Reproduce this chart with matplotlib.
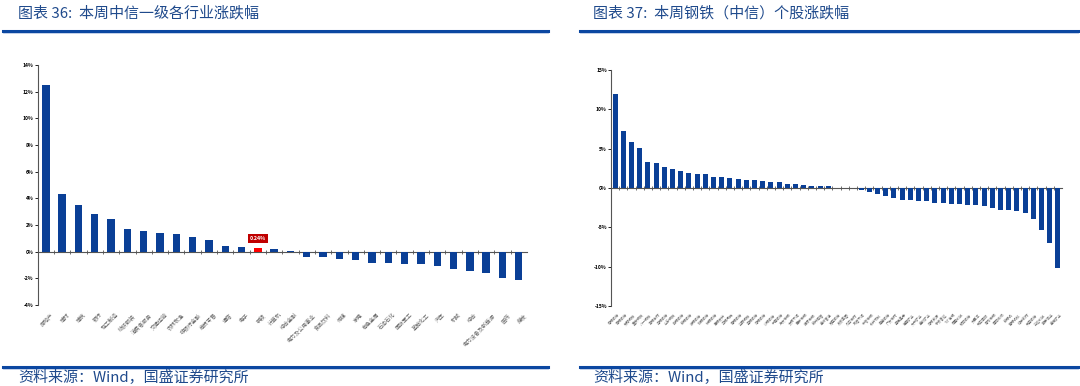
import numpy as np
import matplotlib
matplotlib.use("Agg")
import matplotlib.pyplot as plt
from matplotlib.lines import Line2D

plt.rcParams['font.family'] = ['Noto Sans CJK SC', 'DejaVu Sans']

# 左图：本周中信一级各行业涨跌幅 (%)
industries = ['房地产', '建材', '建筑', '银行', '轻工制造', '纺织服装', '消费者服务',
              '交通运输', '农林牧渔', '非银行金融', '商贸零售', '通信', '电子', '钢铁',
              '计算机', '综合金融', '电力及公用事业', '食品饮料', '传媒', '家电',
              '有色金属', '石油石化', '国防军工', '基础化工', '汽车', '机械', '综合',
              '电力设备及新能源', '医药', '煤炭']
ind_chg = [12.48, 4.35, 3.52, 2.83, 2.48, 1.72, 1.58, 1.40, 1.32, 1.12, 0.85, 0.42,
           0.32, 0.24, 0.17, 0.05, -0.40, -0.40, -0.52, -0.60, -0.82, -0.85, -0.92,
           -0.95, -1.10, -1.32, -1.48, -1.60, -1.98, -2.12]
highlight = '钢铁'

# 右图：本周钢铁（中信）个股涨跌幅 (%)
stocks = ['包钢股份', '首钢股份', '安阳钢铁', '重庆钢铁', '八一钢铁', '本钢板材', '马钢股份',
          '山东钢铁', '鞍钢股份', '新钢股份', '凌钢股份', '柳钢股份', '杭钢股份', '酒钢宏兴',
          '三钢闽光', '南钢股份', '华菱钢铁', '宝钢股份', '河钢股份', '沙钢股份', '中南股份',
          '方大特钢', '太钢不锈', '西宁特钢', '抚顺特钢', '新兴铸管', '金洲管道', '常宝股份',
          '友发集团', '久立特材', '武进不锈', '中信特钢', '永兴材料', '甬金股份', '广大特材',
          '盛德鑫泰', '海南矿业', '大中矿业', '金岭矿业', '河钢资源', '宁波富达', '*ST海钢',
          '恒星科技', '银龙股份', '大西洋', '天工国际', '青岛特钢', '建龙微纳', '新钢钒',
          '攀钢钒钛', '红宇新材', '天宝股份', '华达科技', '明泰铝业', '金瑞矿业']
stk_chg = [11.9, 7.2, 5.9, 5.1, 3.3, 3.15, 2.65, 2.35, 2.1, 1.9, 1.8, 1.75, 1.45,
           1.4, 1.3, 1.2, 1.0, 1.0, 0.9, 0.8, 0.75, 0.55, 0.45, 0.35, 0.3, 0.25, 0.2,
           0.0, 0.0, 0.0,
           -0.25, -0.55, -0.75, -1.0, -1.3, -1.5, -1.5, -1.7, -1.7, -1.85, -1.85,
           -2.05, -2.05, -2.1, -2.15, -2.35, -2.5, -2.8, -2.8, -2.9, -3.15, -3.9,
           -5.3, -7.0, -10.2]

BLUE = '#0A3F96'
TITLE = '#1F4A8C'
LINE = '#0B47A1'

fig = plt.figure(figsize=(10.8, 3.86), dpi=100)


def style_axes(ax, n, labels, ymin, ymax, step, lab_size):
    ax.set_xlim(-0.5, n - 0.5)
    ax.set_ylim(ymin, ymax)
    ticks = np.arange(ymin, ymax + step / 2, step)
    ax.set_yticks(ticks)
    ax.set_yticklabels(['%d%%' % t for t in ticks], fontsize=3.6, fontweight='bold')
    for s in ['top', 'right']:
        ax.spines[s].set_visible(False)
    ax.spines['bottom'].set_position(('data', 0))
    ax.spines['left'].set_color('#555555')
    ax.spines['bottom'].set_color('#555555')
    ax.spines['left'].set_linewidth(0.8)
    ax.spines['bottom'].set_linewidth(0.8)
    ax.set_xticks(np.arange(n) - 0.5, minor=False)
    ax.set_xticklabels([])
    ax.tick_params(axis='x', direction='inout', length=2.5, width=0.6, colors='#555555')
    ax.tick_params(axis='y', direction='out', length=2, width=0.6, pad=1, labelcolor='black')
    # category labels below the plot
    for i, lab in enumerate(labels):
        ax.text(i + 0.3, ymin - (ymax - ymin) * 0.03, lab, rotation=45, ha='right', va='top',
                fontsize=lab_size, color='#666666', rotation_mode='anchor')


# ---------------- left chart ----------------
ax1 = fig.add_axes([0.0349, 0.2098, 0.453, 0.6218])
x1 = np.arange(len(industries))
colors1 = ['#FF0000' if c == highlight else BLUE for c in industries]
ax1.bar(x1, ind_chg, width=0.45, color=colors1, zorder=3)
style_axes(ax1, len(industries), industries, -4, 14, 2, 3.9)
hi = industries.index(highlight)
ax1.text(hi, ind_chg[hi] + 0.55, '%.2f%%' % ind_chg[hi], ha='center', va='bottom',
         fontsize=3.8, color='white', fontweight='bold',
         bbox=dict(boxstyle='square,pad=0.35', fc='#C00000', ec='none'))

# ---------------- right chart ----------------
ax2 = fig.add_axes([0.5657, 0.2073, 0.4176, 0.6114])
x2 = np.arange(len(stocks))
ax2.bar(x2, stk_chg, width=0.6, color=BLUE, zorder=3)
style_axes(ax2, len(stocks), stocks, -15, 15, 5, 2.6)

# ---------------- titles, rules and sources ----------------
fig.text(18 / 1080, 1 - 13 / 386, '图表 36:  本周中信一级各行业涨跌幅', fontsize=10.8,
         color=TITLE, style='italic', va='center', ha='left')
fig.text(593 / 1080, 1 - 13 / 386, '图表 37:  本周钢铁（中信）个股涨跌幅', fontsize=10.8,
         color=TITLE, style='italic', va='center', ha='left')
fig.text(18 / 1080, 1 - 378 / 386, '资料来源：Wind，国盛证券研究所', fontsize=10.8,
         color=TITLE, style='italic', va='center', ha='left')
fig.text(593 / 1080, 1 - 378 / 386, '资料来源：Wind，国盛证券研究所', fontsize=10.8,
         color=TITLE, style='italic', va='center', ha='left')

for (xa, xb) in [(3, 548), (580, 1078)]:
    for y in (31, 367):
        fig.add_artist(Line2D([xa / 1080, xb / 1080], [1 - y / 386, 1 - y / 386],
                              color=LINE, linewidth=2.2, transform=fig.transFigure))
        fig.add_artist(Line2D([xa / 1080, xb / 1080], [1 - (y + 2) / 386, 1 - (y + 2) / 386],
                              color='#B8C8E6', linewidth=0.6, transform=fig.transFigure))

fig.savefig('out.png', dpi=100)
